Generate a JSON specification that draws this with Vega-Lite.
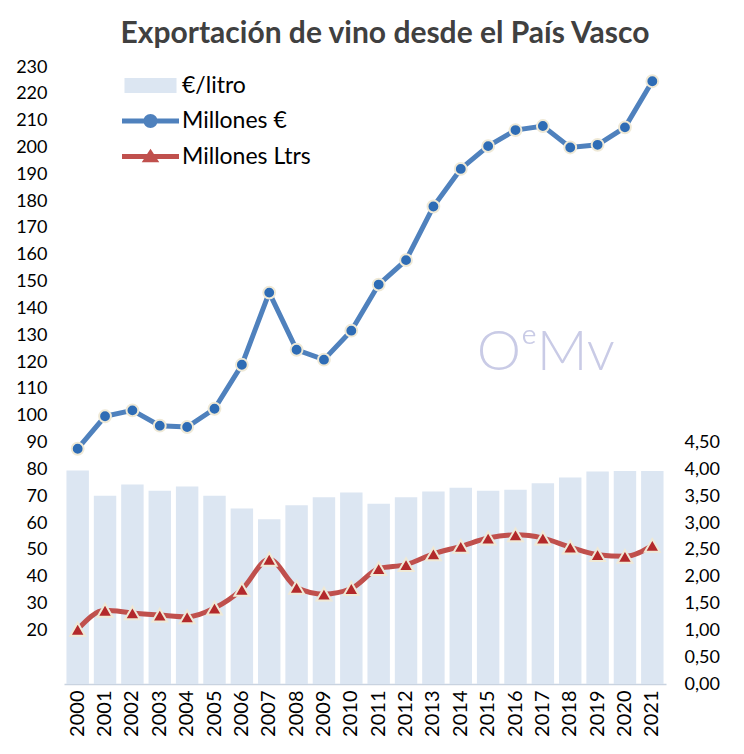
{
  "$schema": "https://vega.github.io/schema/vega-lite/v6.json",
  "width": 602,
  "height": 617,
  "padding": {"left": 15, "top": 19, "right": 5, "bottom": 5},
  "background": "white",
  "title": {
    "text": "Exportación de vino desde el País Vasco",
    "font": "Lato",
    "fontSize": 30,
    "fontWeight": "bold",
    "color": "#404040",
    "anchor": "middle",
    "dx": 20,
    "offset": 9
  },
  "config": {
    "view": {"stroke": null},
    "font": "Lato",
    "axis": {"labelFont": "Lato", "labelColor": "#000000", "grid": false, "ticks": false}
  },
  "datasets": {
    "litro": [
      {"year": "2000", "eur_litro": 3.98},
      {"year": "2001", "eur_litro": 3.51},
      {"year": "2002", "eur_litro": 3.72},
      {"year": "2003", "eur_litro": 3.6},
      {"year": "2004", "eur_litro": 3.68},
      {"year": "2005", "eur_litro": 3.51},
      {"year": "2006", "eur_litro": 3.27},
      {"year": "2007", "eur_litro": 3.07},
      {"year": "2008", "eur_litro": 3.33},
      {"year": "2009", "eur_litro": 3.48},
      {"year": "2010", "eur_litro": 3.57},
      {"year": "2011", "eur_litro": 3.36},
      {"year": "2012", "eur_litro": 3.48},
      {"year": "2013", "eur_litro": 3.59},
      {"year": "2014", "eur_litro": 3.66},
      {"year": "2015", "eur_litro": 3.6},
      {"year": "2016", "eur_litro": 3.62},
      {"year": "2017", "eur_litro": 3.74},
      {"year": "2018", "eur_litro": 3.85},
      {"year": "2019", "eur_litro": 3.96},
      {"year": "2020", "eur_litro": 3.97},
      {"year": "2021", "eur_litro": 3.97}
    ],
    "lineas": [
      {"year": "2000", "serie": "Millones €", "value": 87.7},
      {"year": "2001", "serie": "Millones €", "value": 99.8},
      {"year": "2002", "serie": "Millones €", "value": 102.0},
      {"year": "2003", "serie": "Millones €", "value": 96.3},
      {"year": "2004", "serie": "Millones €", "value": 95.8},
      {"year": "2005", "serie": "Millones €", "value": 102.6},
      {"year": "2006", "serie": "Millones €", "value": 119.0},
      {"year": "2007", "serie": "Millones €", "value": 145.9},
      {"year": "2008", "serie": "Millones €", "value": 124.6},
      {"year": "2009", "serie": "Millones €", "value": 120.9},
      {"year": "2010", "serie": "Millones €", "value": 131.7},
      {"year": "2011", "serie": "Millones €", "value": 148.9},
      {"year": "2012", "serie": "Millones €", "value": 158.0},
      {"year": "2013", "serie": "Millones €", "value": 178.0},
      {"year": "2014", "serie": "Millones €", "value": 192.0},
      {"year": "2015", "serie": "Millones €", "value": 200.5},
      {"year": "2016", "serie": "Millones €", "value": 206.5},
      {"year": "2017", "serie": "Millones €", "value": 208.0},
      {"year": "2018", "serie": "Millones €", "value": 200.0},
      {"year": "2019", "serie": "Millones €", "value": 201.0},
      {"year": "2020", "serie": "Millones €", "value": 207.5},
      {"year": "2021", "serie": "Millones €", "value": 224.7},
      {"year": "2000", "serie": "Millones Ltrs", "value": 20.4},
      {"year": "2001", "serie": "Millones Ltrs", "value": 27.5},
      {"year": "2002", "serie": "Millones Ltrs", "value": 26.5},
      {"year": "2003", "serie": "Millones Ltrs", "value": 25.7},
      {"year": "2004", "serie": "Millones Ltrs", "value": 25.0},
      {"year": "2005", "serie": "Millones Ltrs", "value": 28.3},
      {"year": "2006", "serie": "Millones Ltrs", "value": 35.3},
      {"year": "2007", "serie": "Millones Ltrs", "value": 46.5},
      {"year": "2008", "serie": "Millones Ltrs", "value": 36.0},
      {"year": "2009", "serie": "Millones Ltrs", "value": 33.5},
      {"year": "2010", "serie": "Millones Ltrs", "value": 35.6},
      {"year": "2011", "serie": "Millones Ltrs", "value": 43.0},
      {"year": "2012", "serie": "Millones Ltrs", "value": 44.5},
      {"year": "2013", "serie": "Millones Ltrs", "value": 48.5},
      {"year": "2014", "serie": "Millones Ltrs", "value": 51.3},
      {"year": "2015", "serie": "Millones Ltrs", "value": 54.4},
      {"year": "2016", "serie": "Millones Ltrs", "value": 55.6},
      {"year": "2017", "serie": "Millones Ltrs", "value": 54.4},
      {"year": "2018", "serie": "Millones Ltrs", "value": 51.0},
      {"year": "2019", "serie": "Millones Ltrs", "value": 48.2},
      {"year": "2020", "serie": "Millones Ltrs", "value": 47.6},
      {"year": "2021", "serie": "Millones Ltrs", "value": 51.7}
    ]
  },
  "encoding": {
    "x": {
      "field": "year",
      "type": "ordinal",
      "scale": {"paddingInner": 0.18, "paddingOuter": 0.09},
      "axis": {
        "title": null,
        "labelAngle": -90,
        "labelFontSize": 20,
        "labelPadding": 6,
        "domainColor": "#c9d3e0",
        "domainWidth": 1.5
      }
    }
  },
  "layer": [
    {
      "data": {"name": "litro"},
      "mark": {"type": "bar", "color": "#dce6f2"},
      "encoding": {
        "y": {
          "field": "eur_litro",
          "type": "quantitative",
          "scale": {"domain": [0, 11.5], "nice": false, "zero": true},
          "axis": {
            "orient": "right",
            "title": null,
            "values": [0, 0.5, 1, 1.5, 2, 2.5, 3, 3.5, 4, 4.5],
            "labelExpr": "replace(format(datum.value, '.2f'), '.', ',')",
            "domain": false,
            "labelFontSize": 18,
            "labelPadding": 18
          }
        }
      }
    },
    {
      "data": {"name": "lineas"},
      "encoding": {
        "y": {
          "field": "value",
          "type": "quantitative",
          "scale": {"domain": [0, 230], "nice": false},
          "axis": {
            "orient": "left",
            "title": null,
            "values": [20, 30, 40, 50, 60, 70, 80, 90, 100, 110, 120, 130, 140, 150, 160, 170, 180, 190, 200, 210, 220, 230],
            "domain": false,
            "labelFontSize": 18,
            "labelPadding": 17
          }
        }
      },
      "layer": [
        {
          "data": {"values": [{"year": "2017", "value": 123.5, "label": "OᵉMv"}]},
          "mark": {"type": "text", "font": "Lato", "fontSize": 56, "fontWeight": 300, "color": "#c9cbe6", "baseline": "middle", "align": "center", "dx": 3},
          "encoding": {"text": {"field": "label"}}
        },
        {
          "transform": [{"filter": "datum.serie === 'Millones €'"}],
          "mark": {"type": "line", "color": "#4f81bd", "strokeWidth": 5},
          "encoding": {}
        },
        {
          "transform": [{"filter": "datum.serie === 'Millones Ltrs'"}],
          "mark": {"type": "line", "color": "#c0504d", "strokeWidth": 5, "interpolate": "monotone"},
          "encoding": {}
        },
        {
          "mark": {"type": "point", "filled": true, "opacity": 1, "stroke": "#efe9d6", "strokeWidth": 2},
          "encoding": {
            "shape": {"condition": {"test": "datum.serie === 'Millones €'", "value": "circle"}, "value": "triangle-up"},
            "fill": {"condition": {"test": "datum.serie === 'Millones €'", "value": "#2e6cb5"}, "value": "#b3292b"},
            "size": {"condition": {"test": "datum.serie === 'Millones €'", "value": 140}, "value": 220}
          }
        },
        {
          "transform": [{"filter": "false"}],
          "mark": {"type": "point", "filled": true, "opacity": 1},
          "encoding": {
            "color": {
              "field": "serie",
              "type": "nominal",
              "scale": {"domain": ["€/litro", "Millones €", "Millones Ltrs"], "range": ["#dce6f2", "#4f81bd", "#c0504d"]},
              "legend": {
                "title": null,
                "orient": "none",
                "legendX": 74,
                "legendY": 6,
                "symbolSize": 625,
                "symbolStrokeWidth": 0,
                "symbolOpacity": 1,
                "labelFont": "Lato",
                "labelFontSize": 23,
                "labelColor": "#000000",
                "labelOffset": 19,
                "rowPadding": 10.5
              }
            },
            "shape": {
              "field": "serie",
              "type": "nominal",
              "scale": {
                "domain": ["€/litro", "Millones €", "Millones Ltrs"],
                "range": [
                  "M-2.08,-0.6H2.08V0.6H-2.08Z",
                  "M-2.28,-0.2H2.28V0.2H-2.28Z M0.56,0A0.56,0.56,0,1,1,-0.56,0A0.56,0.56,0,1,1,0.56,0Z",
                  "M-2.28,-0.2H2.28V0.2H-2.28Z M0,-0.62L0.7,0.46L-0.7,0.46Z"
                ]
              },
              "legend": {
                "title": null,
                "orient": "none",
                "legendX": 74,
                "legendY": 6,
                "symbolSize": 625,
                "symbolStrokeWidth": 0,
                "symbolOpacity": 1,
                "labelFont": "Lato",
                "labelFontSize": 23,
                "labelColor": "#000000",
                "labelOffset": 19,
                "rowPadding": 10.5
              }
            }
          }
        }
      ]
    }
  ],
  "resolve": {"scale": {"y": "independent"}}
}
